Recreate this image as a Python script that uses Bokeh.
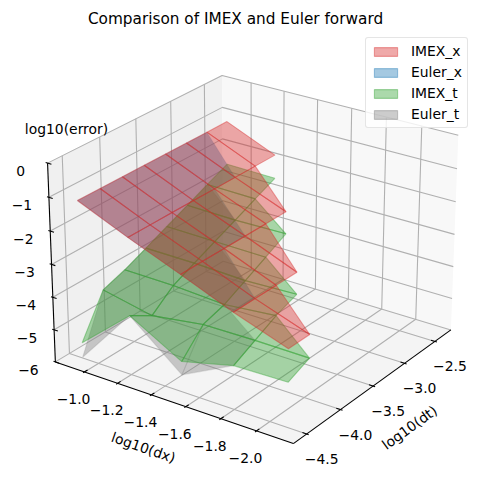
import math
from bokeh.plotting import figure
from bokeh.models import Legend, LegendItem, ColumnDataSource
from bokeh.core.properties import value
from bokeh.embed import file_html
from bokeh.resources import INLINE

# ---- data
log10_dx = [-1.0, -1.29, -1.588, -1.881, -2.18]
log10_dt = [-4.709, -4.408, -4.107, -3.806, -3.505, -3.204, -2.903, -2.602]

imex_x = [
    [-0.81, -0.81, -0.81, -0.81, -0.81, -0.81, -0.81, -0.81],
    [-1.45, -1.45, -1.45, -1.45, -1.45, -1.45, -1.45, -1.45],
    [-2.06, -2.06, -2.06, -2.06, -2.06, -2.06],
    [-2.68, -2.68, -2.68, -2.68],
    [-3.23, -3.23],
]
euler_x = [
    [-0.81, -0.81, -0.81, -0.81, -0.81, -0.81, -0.81, -0.81],
    [-1.45, -1.45, -1.45, -1.45, -1.45, -1.45],
    [-2.06, -2.06, -2.06, -2.06],
    [-2.68, -2.68],
]
imex_t = [
    [-5.07, -3.85, -3.62, -3.33, -3.03, -2.73, -2.43, -2.14],
    [-3.76, -4.16, -3.64, -3.34, -3.05, -2.76, -2.46, -2.17],
    [-4.63, -3.93, -3.73, -3.40, -3.07, -2.73],
    [-4.24, -3.91, -3.58, -3.34],
    [-4.20, -3.92],
]
euler_t = [
    [-5.52, -3.85, -3.62, -3.33, -3.03, -2.73, -2.43, -2.14],
    [-3.76, -4.16, -3.64, -3.34, -3.05, -2.76],
    [-5.03, -3.93, -3.73, -3.40],
    [-4.24, -3.91],
]

x_ticks = [-1.0, -1.2, -1.4, -1.6, -1.8, -2.0]
x_tick_labels = ["−1.0", "−1.2", "−1.4", "−1.6", "−1.8", "−2.0"]
y_ticks = [-2.5, -3.0, -3.5, -4.0, -4.5]
y_tick_labels = ["−2.5", "−3.0", "−3.5", "−4.0", "−4.5"]
z_ticks = [0, -1, -2, -3, -4, -5, -6]
z_tick_labels = ["0", "−1", "−2", "−3", "−4", "−5", "−6"]

series = ["IMEX_x", "Euler_x", "IMEX_t", "Euler_t"]
RED, BLUE, GREEN, GRAY = "#d62728", "#1f77b4", "#2ca02c", "#7f7f7f"

# ---- camera, same maths as a 3D axes
ELEV, AZIM = math.radians(25), math.radians(-55)
XLIM, YLIM, ZLIM = (-0.821, -2.203), (-4.691, -2.23), (-6.0, 0.0)
BOX = (1.1905, 1.1905, 0.8929)
DIST = 10.0
SCALE, CX, CY = 2430.0, 255.2, 248.7

ce, se, ca, sa = math.cos(ELEV), math.sin(ELEV), math.cos(AZIM), math.sin(AZIM)
U = (-sa, ca, 0.0)
V = (-se * ca, -se * sa, ce)
W = (ce * ca, ce * sa, se)


def project_n(xn, yn, zn):
    d = ((xn - 0.5) * BOX[0], (yn - 0.5) * BOX[1], (zn - 0.5) * BOX[2])
    u = sum(a * b for a, b in zip(U, d))
    v = sum(a * b for a, b in zip(V, d))
    w = sum(a * b for a, b in zip(W, d))
    return u / (DIST - w), v / (DIST - w)


def nx(x):
    return (x - XLIM[0]) / (XLIM[1] - XLIM[0])


def ny(y):
    return (y - YLIM[0]) / (YLIM[1] - YLIM[0])


def nz(z):
    return (z - ZLIM[0]) / (ZLIM[1] - ZLIM[0])


def project(x, y, z):
    return project_n(nx(x), ny(y), nz(z))


W_PX, H_PX = 482, 490
p = figure(
    width=W_PX, height=H_PX, output_backend="svg", toolbar_location=None,
    x_axis_type=None, y_axis_type=None, min_border=0, outline_line_color=None,
    x_range=((0 - CX) / SCALE, (W_PX - CX) / SCALE),
    y_range=((CY - H_PX) / SCALE, CY / SCALE),
    background_fill_color="white", border_fill_color="white",
)
p.grid.visible = False


def poly(pts):
    P = [project_n(*q) for q in pts]
    return [a for a, _ in P], [b for _, b in P]


# panes
panes = [
    ([(0, 0, 0), (0, 1, 0), (0, 1, 1), (0, 0, 1)], "#f0f0f0"),
    ([(0, 1, 0), (1, 1, 0), (1, 1, 1), (0, 1, 1)], "#f8f8f8"),
    ([(0, 0, 0), (1, 0, 0), (1, 1, 0), (0, 1, 0)], "#f4f4f4"),
]
for pts, col in panes:
    xs, ys = poly(pts)
    p.patch(xs, ys, fill_color=col, line_color=None)

# grid
gx, gy = [], []
for t in x_ticks:
    a = nx(t)
    xs, ys = poly([(a, 0, 0), (a, 1, 0), (a, 1, 1)])
    gx.append(xs); gy.append(ys)
for t in y_ticks:
    b = ny(t)
    xs, ys = poly([(1, b, 0), (0, b, 0), (0, b, 1)])
    gx.append(xs); gy.append(ys)
for t in z_ticks:
    c = nz(t)
    xs, ys = poly([(0, 0, c), (0, 1, c), (1, 1, c)])
    gx.append(xs); gy.append(ys)
p.multi_line(gx, gy, line_color="#b0b0b0", line_width=1.1)

# axis lines and tick marks
ax, ay = [], []
for pts in ([(0, 0, 0), (1, 0, 0)], [(1, 0, 0), (1, 1, 0)], [(0, 0, 0), (0, 0, 1)]):
    xs, ys = poly(pts)
    ax.append(xs); ay.append(ys)
OUT, IN = 0.1 / 12, 0.2 / 12
for t in x_ticks:
    a = nx(t)
    xs, ys = poly([(a, -OUT, 0), (a, IN, 0)])
    ax.append(xs); ay.append(ys)
for t in y_ticks:
    b = ny(t)
    xs, ys = poly([(1 + OUT, b, 0), (1 - IN, b, 0)])
    ax.append(xs); ay.append(ys)
for t in z_ticks:
    c = nz(t)
    xs, ys = poly([(-OUT, 0, c), (IN, 0, c)])
    ax.append(xs); ay.append(ys)
p.multi_line(ax, ay, line_color="black", line_width=1.1)


def surface(rows, color, line_alpha=0.4):
    xs, ys = [], []
    for i in range(len(rows) - 1):
        for j in range(len(log10_dt) - 1):
            cells = [(i, j), (i, j + 1), (i + 1, j + 1), (i + 1, j)]
            pts = [project(log10_dx[a], log10_dt[b], rows[a][b])
                   for a, b in cells if b < len(rows[a])]
            if len(pts) >= 3:
                xs.append([q[0] for q in pts])
                ys.append([q[1] for q in pts])
    return p.patches(xs, ys, fill_color=color, fill_alpha=0.4,
                     line_color=color, line_alpha=line_alpha, line_width=1.1)


def swatch(color):
    # empty patch that only gives the legend its key
    return p.patches([[]], [[]], fill_color=color, fill_alpha=0.4,
                     line_color=color, line_alpha=0.4, line_width=1.1)


surface(euler_x, BLUE, 0.1)
surface(euler_t, GRAY, 0.2)
surface(imex_t, GREEN)
surface(imex_x, RED)

FONT = value("DejaVu Sans")


def labels(xs, ys, texts, dx, dy, size="13.9px", angle=0.0):
    """Write texts at projected points, shifted by (dx, dy) screen pixels."""
    src = ColumnDataSource(dict(x=[a + dx / SCALE for a in xs],
                                y=[b - dy / SCALE for b in ys], t=texts))
    p.text("x", "y", text="t", source=src, text_font=FONT, text_font_size=size,
           text_align="center", text_baseline="middle", text_color="black",
           angle=angle)


P = [project_n(nx(t), 0, 0) for t in x_ticks]
labels([q[0] for q in P], [q[1] for q in P], x_tick_labels, -11, 27)
P = [project_n(1, ny(t), 0) for t in y_ticks]
labels([q[0] for q in P], [q[1] for q in P], y_tick_labels, 15, 25)
P = [project_n(0, 0, nz(t)) for t in z_ticks]
labels([q[0] for q in P], [q[1] for q in P], z_tick_labels, -27, 8)

labels([(235 - CX) / SCALE], [(CY - 18) / SCALE],
       ["Comparison of IMEX and Euler forward"], 0, 0, size="15.3px")
labels([(66 - CX) / SCALE], [(CY - 128) / SCALE], ["log10(error)"], 0, 0)
labels([(143 - CX) / SCALE], [(CY - 447) / SCALE], ["log10(dx)"], 0, 0,
       angle=math.radians(-19))
labels([(409 - CX) / SCALE], [(CY - 427) / SCALE], ["log10(dt)"], 0, 0,
       angle=math.radians(36))

legend = Legend(
    items=[LegendItem(label=n, renderers=[swatch(c)])
           for n, c in zip(series, [RED, BLUE, GREEN, GRAY])],
    location=(365, 362), margin=0, padding=5, spacing=5,
    glyph_width=29, glyph_height=11, label_height=15, label_standoff=11,
    label_text_font="DejaVu Sans", label_text_font_size="13.9px",
    label_text_color="black",
    background_fill_color="white", background_fill_alpha=0.8,
    border_line_color="#cccccc", border_line_width=1.1,
)
if "border_radius" in Legend.properties():
    legend.border_radius = 3
p.add_layout(legend, "center")

open("out.html", "w").write(file_html(p, INLINE))
